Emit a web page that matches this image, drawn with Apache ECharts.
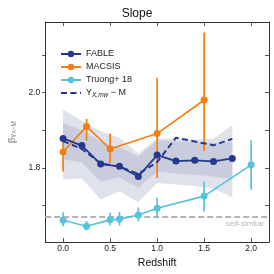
<!DOCTYPE html>
<html><head><meta charset="utf-8">
<script src="https://cdn.jsdelivr.net/npm/echarts@6/dist/echarts.min.js"></script>
<style>html,body{margin:0;padding:0;background:#fff}#c{width:274px;height:274px}</style>
</head><body><div id="c"></div>
<script>
// ---- data ----
const fableZ = [0, 0.2, 0.4, 0.6, 0.8, 1.0, 1.2, 1.4, 1.6, 1.8];
const fableSlope = [1.878, 1.859, 1.810, 1.804, 1.777, 1.834, 1.818, 1.820, 1.817, 1.825];
const mwSlope = [1.871, 1.850, 1.812, 1.803, 1.784, 1.815, 1.880, 1.870, 1.860, 1.877];
const outerLow = [1.769, 1.772, 1.716, 1.738, 1.708, 1.760, 1.756, 1.752, 1.745, 1.722];
const outerHigh = [1.954, 1.925, 1.897, 1.880, 1.838, 1.878, 1.878, 1.875, 1.878, 1.913];
const innerLow = [1.822, 1.815, 1.764, 1.775, 1.747, 1.790, 1.785, 1.782, 1.777, 1.770];
const innerHigh = [1.920, 1.900, 1.869, 1.855, 1.830, 1.873, 1.870, 1.870, 1.865, 1.870];

const macsisZ = [0, 0.25, 0.5, 1.0, 1.5];
const macsisSlope = [1.842, 1.910, 1.850, 1.891, 1.980];
const macsisLow = [1.790, 1.873, 1.812, 1.773, 1.845];
const macsisHigh = [1.869, 1.930, 1.891, 2.039, 2.159];

const truongZ = [0, 0.25, 0.5, 0.6, 0.8, 1.0, 1.5, 2.0];
const truongSlope = [1.661, 1.645, 1.662, 1.664, 1.675, 1.693, 1.725, 1.808];
const truongLow = [1.645, 1.634, 1.647, 1.647, 1.658, 1.666, 1.684, 1.742];
const truongHigh = [1.682, 1.659, 1.681, 1.683, 1.695, 1.721, 1.764, 1.873];

const selfSimilar = 1.667;
const xTicks = [0, 0.5, 1.0, 1.5, 2.0];
const yTicks = [1.7, 1.8, 1.9, 2.0, 2.1];
const yLabels = [1.8, 2.0];

const cFable = '#27398f', cMacsis = '#f47f0f', cTruong = '#57c2dc';
const font = 'Liberation Sans, Arial, sans-serif';

function pairs(xs, ys) { return xs.map((x, i) => [x, ys[i]]); }
function band(xs, lo, hi, color, z) {
  return {
    type: 'custom', silent: true, z: z, clip: true,
    data: [[xs[0], lo[0]]],
    renderItem: (p, api) => {
      const pts = [];
      for (let i = 0; i < xs.length; i++) pts.push(api.coord([xs[i], hi[i]]));
      for (let i = xs.length - 1; i >= 0; i--) pts.push(api.coord([xs[i], lo[i]]));
      return { type: 'polygon', shape: { points: pts }, style: { fill: color } };
    }
  };
}
function errBars(xs, lo, hi, color, z) {
  return {
    type: 'custom', silent: true, z: z, clip: true,
    data: xs.map((x, i) => [x, lo[i], hi[i]]),
    encode: { x: 0, y: [1, 2] },
    renderItem: (p, api) => {
      const a = api.coord([api.value(0), api.value(1)]);
      const b = api.coord([api.value(0), api.value(2)]);
      return { type: 'line', shape: { x1: a[0], y1: a[1], x2: b[0], y2: b[1] }, style: { stroke: color, lineWidth: 1.7 } };
    }
  };
}

const chart = echarts.init(document.getElementById('c'));
chart.setOption({
  animation: false,
  textStyle: { fontFamily: font },
  title: { text: 'Slope', left: 'center', top: 3, textStyle: { fontSize: 12, fontWeight: 'normal', color: '#111', fontFamily: font } },
  grid: { left: 32, right: 5, top: 22, bottom: 29 },
  legend: {
    orient: 'vertical', left: 55, top: 43, itemWidth: 20, itemHeight: 8, itemGap: 1,
    data: ['FABLE', 'MACSIS', 'Truong+ 18', { name: 'Ymw', itemStyle: { opacity: 0 } }],
    formatter: n => n === 'Ymw' ? '{n|Y}{s|X,mw}{n| − M}' : n,
    textStyle: {
      fontSize: 9, color: '#222', lineHeight: 12, fontFamily: font,
      rich: { n: { fontSize: 9, color: '#222', lineHeight: 12 }, s: { fontSize: 6.5, fontStyle: 'italic', color: '#222', lineHeight: 12, verticalAlign: 'bottom', padding: [3, 0, 0, 0] } }
    }
  },
  xAxis: [{
    type: 'value', min: -0.19, max: 2.19, position: 'bottom',
    name: 'Redshift', nameLocation: 'middle', nameGap: 12,
    nameTextStyle: { fontSize: 10.5, color: '#111', fontFamily: font },
    axisLine: { onZero: false, lineStyle: { color: '#333', width: 1 } },
    axisTick: { customValues: xTicks, inside: true, length: 4, lineStyle: { color: '#555' } },
    axisLabel: { customValues: xTicks, margin: 2, fontSize: 8.5, color: '#222', formatter: v => v.toFixed(1) },
    splitLine: { show: false }
  }, {
    type: 'value', min: -0.19, max: 2.19, position: 'top',
    axisLine: { onZero: false, lineStyle: { color: '#333', width: 1 } },
    axisTick: { customValues: xTicks, inside: true, length: 4, lineStyle: { color: '#555' } },
    axisLabel: { show: false }, splitLine: { show: false }
  }],
  yAxis: [{
    type: 'value', min: 1.603, max: 2.187, position: 'left',
    name: '{b|β}{s|Y}{t|X}{s|−M}', nameLocation: 'middle', nameGap: 16, nameRotate: 90,
    nameTextStyle: { color: '#777', rich: { b: { fontSize: 9, color: '#777' }, s: { fontSize: 6.5, color: '#777', padding: [3, 0, 0, 0] }, t: { fontSize: 5, color: '#777', padding: [5, 0, 0, 0] } } },
    axisLine: { onZero: false, lineStyle: { color: '#333', width: 1 } },
    axisTick: { customValues: yTicks, inside: false, length: 3, lineStyle: { color: '#555' } },
    axisLabel: { customValues: yLabels, margin: 5, fontSize: 8.5, color: '#222', formatter: v => v.toFixed(1) },
    splitLine: { show: false }
  }, {
    type: 'value', min: 1.603, max: 2.187, position: 'right',
    axisLine: { onZero: false, lineStyle: { color: '#333', width: 1 } },
    axisTick: { customValues: yTicks, inside: true, length: 4, lineStyle: { color: '#555' } },
    axisLabel: { show: false }, splitLine: { show: false }
  }],
  series: [
    band(fableZ, outerLow, outerHigh, '#e0e2eb', 1),
    band(fableZ, innerLow, innerHigh, '#c8ccdc', 2),
    {
      name: 'ss', type: 'line', data: [], z: 3, silent: true,
      markLine: {
        silent: true, symbol: 'none', animation: false,
        lineStyle: { color: '#b5b5b5', type: [6, 3], width: 2 },
        label: { show: true, position: 'insideEndBottom', formatter: 'self-similar', color: '#b8b8b8', fontSize: 8, distance: [5, 3], fontFamily: font },
        data: [{ yAxis: selfSimilar }]
      }
    },
    errBars(macsisZ, macsisLow, macsisHigh, cMacsis, 4),
    { name: 'MACSIS', type: 'line', data: pairs(macsisZ, macsisSlope), z: 5, color: cMacsis, symbol: 'circle', symbolSize: 7, lineStyle: { width: 1.6, color: cMacsis }, itemStyle: { color: cMacsis } },
    { name: 'Ymw', type: 'line', data: pairs(fableZ, mwSlope), z: 6, color: cFable, symbol: 'none', showSymbol: false, lineStyle: { width: 2, type: [6, 3.5], color: cFable } },
    { name: 'FABLE', type: 'line', data: pairs(fableZ, fableSlope), z: 7, color: cFable, symbol: 'circle', symbolSize: 7, lineStyle: { width: 1.8, color: cFable }, itemStyle: { color: cFable } },
    errBars(truongZ, truongLow, truongHigh, cTruong, 8),
    { name: 'Truong+ 18', type: 'line', data: pairs(truongZ, truongSlope), z: 9, color: cTruong, symbol: 'circle', symbolSize: 7, lineStyle: { width: 1.6, color: cTruong }, itemStyle: { color: cTruong } }
  ]
});
</script></body></html>
